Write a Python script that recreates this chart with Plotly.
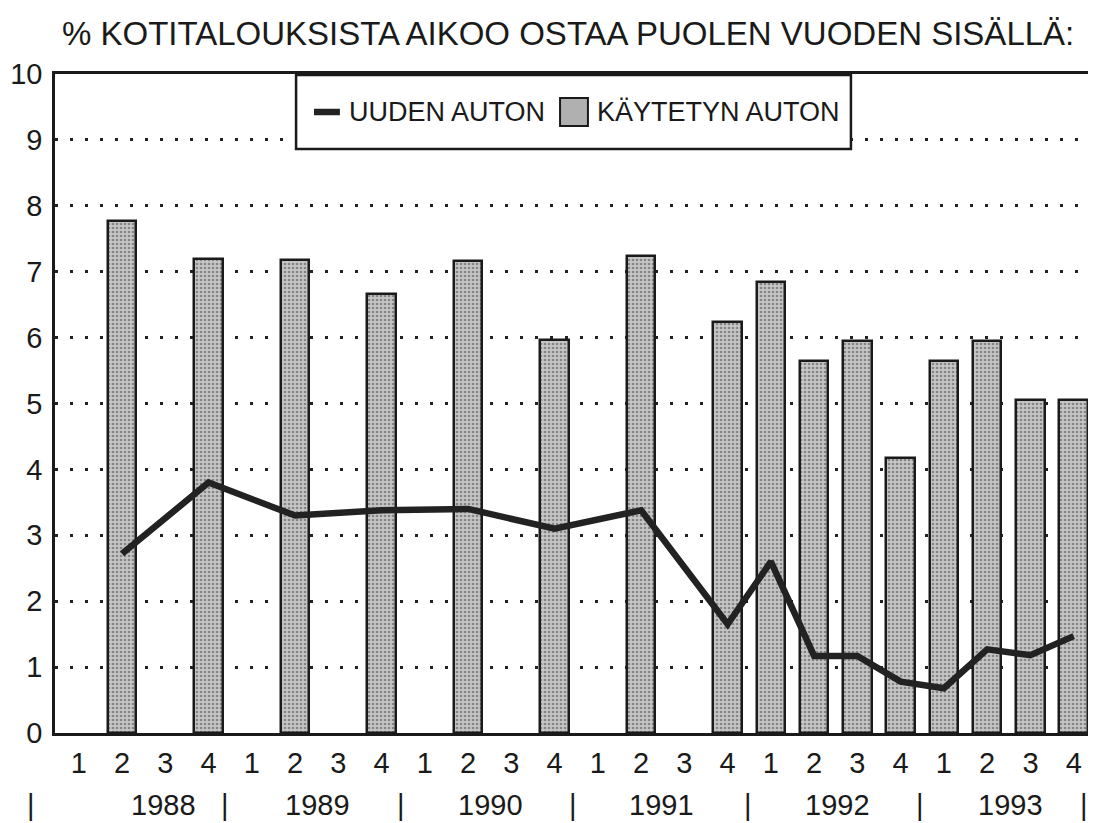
import plotly.graph_objects as go

# ---- data ----
quarters = ["1", "2", "3", "4"] * 6
years = ["1988", "1989", "1990", "1991", "1992", "1993"]
# index of quarter (0 = 1988 Q1 ... 23 = 1993 Q4)
obs_idx = [1, 3, 5, 7, 9, 11, 13, 15, 16, 17, 18, 19, 20, 21, 22, 23]
used_car = [7.77, 7.19, 7.18, 6.66, 7.17, 5.97, 7.24, 6.24, 6.85, 5.65, 5.95, 4.18, 5.65, 5.95, 5.05, 5.05]
new_car = [2.72, 3.8, 3.3, 3.38, 3.4, 3.1, 3.38, 1.65, 2.6, 1.17, 1.17, 0.78, 0.68, 1.27, 1.18, 1.47]
name_new = "UUDEN AUTON"
name_used = "KÄYTETYN AUTON"
title_text = "% KOTITALOUKSISTA AIKOO OSTAA PUOLEN VUODEN SISÄLLÄ:"

FONT = "Liberation Sans, Arial, Helvetica, sans-serif"
INK = "#1a1a1a"

fig = go.Figure()
fig.add_trace(go.Bar(
    x=obs_idx, y=used_car, name=name_used, width=0.66,
    marker=dict(color="#b8b8b8",
                line=dict(color=INK, width=2.5),
                pattern=dict(shape=".", fgcolor="#444444", bgcolor="#c6c6c6",
                             size=4, solidity=0.35)),
    showlegend=False,
))
fig.add_trace(go.Scatter(
    x=obs_idx, y=new_car, name=name_new, mode="lines",
    line=dict(color="#222222", width=6.5),
    showlegend=False,
))

# the page body adds an 8px margin, so the figure is drawn 8px in from the corner
OFF = 8
W, H = 1096 - OFF, 823 - OFF
L, R, T, B = 54 - OFF, 2, 74 - OFF, 90
pw = W - L - R
ph = H - T - B

def px2paper_x(px):
    return (px - OFF - L) / pw

def py2paper_y(py):
    return 1 - (py - OFF - T) / ph

shapes = []
annotations = []

# custom legend box
shapes.append(dict(type="rect", xref="paper", yref="paper",
                   x0=px2paper_x(296), x1=px2paper_x(853),
                   y0=py2paper_y(149), y1=py2paper_y(75),
                   fillcolor="white", line=dict(color=INK, width=2.5), layer="above"))
shapes.append(dict(type="line", xref="paper", yref="paper",
                   x0=px2paper_x(314), x1=px2paper_x(340),
                   y0=py2paper_y(112), y1=py2paper_y(112),
                   line=dict(color="#222222", width=6.5), layer="above"))
shapes.append(dict(type="rect", xref="paper", yref="paper",
                   x0=px2paper_x(561), x1=px2paper_x(589),
                   y0=py2paper_y(126), y1=py2paper_y(98),
                   fillcolor="#b0b0b0", line=dict(color=INK, width=2), layer="above"))
annotations.append(dict(text=name_new, xref="paper", yref="paper",
                        x=px2paper_x(347), y=py2paper_y(112), xanchor="left", yanchor="middle",
                        showarrow=False, font=dict(family=FONT, size=27, color=INK)))
annotations.append(dict(text=name_used, xref="paper", yref="paper",
                        x=px2paper_x(596), y=py2paper_y(112), xanchor="left", yanchor="middle",
                        showarrow=False, font=dict(family=FONT, size=27, color=INK)))

# year row
year_px = [163, 318, 491, 663, 840, 1013]
sep_px = [30, 225, 401, 574, 750, 922, 1087]
for yr, p in zip(years, year_px):
    annotations.append(dict(text=yr, xref="paper", yref="paper", x=px2paper_x(p),
                            y=py2paper_y(805), xanchor="center", yanchor="middle",
                            showarrow=False, font=dict(family=FONT, size=29, color=INK)))
for p in sep_px:
    annotations.append(dict(text="|", xref="paper", yref="paper", x=px2paper_x(p),
                            y=py2paper_y(805), xanchor="center", yanchor="middle",
                            showarrow=False, font=dict(family=FONT, size=29, color=INK)))

fig.update_layout(
    width=W, height=H,
    margin=dict(l=L, r=R, t=T, b=B, pad=0),
    paper_bgcolor="white", plot_bgcolor="white",
    title=dict(text=title_text, xref="paper", x=px2paper_x(61), xanchor="left",
               yref="container", y=1 - (33 - OFF) / H, yanchor="middle",
               font=dict(family=FONT, size=33, color=INK)),
    font=dict(family=FONT, color=INK),
    shapes=shapes, annotations=annotations,
    bargap=0,
)
fig.update_xaxes(
    range=[-0.55, 23.4], tickmode="array", tickvals=list(range(24)), ticktext=quarters,
    showgrid=False, zeroline=False,
    showline=True, linecolor=INK, linewidth=2.5, mirror=True,
    ticks="", ticklabelstandoff=2,
    tickfont=dict(family=FONT, size=29, color=INK),
)
fig.update_yaxes(
    range=[0, 10], tickmode="array", tickvals=list(range(11)),
    showgrid=True, gridcolor="#222222", gridwidth=3, griddash="3px,12px",
    zeroline=False,
    showline=True, linecolor=INK, linewidth=2.5, mirror=True,
    ticks="", ticklabelstandoff=4,
    tickfont=dict(family=FONT, size=29, color=INK),
)

fig.write_html("out.html")
